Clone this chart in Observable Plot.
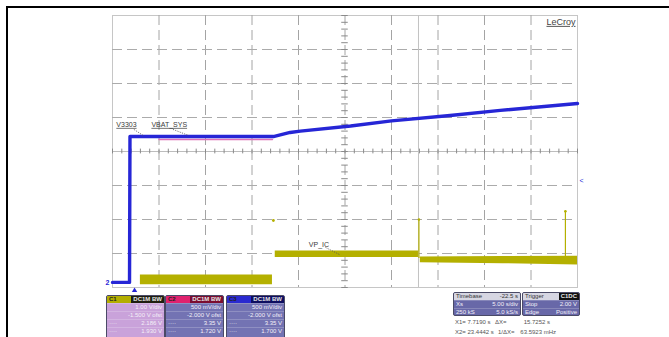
<!DOCTYPE html>
<html><head><meta charset="utf-8">
<script src="https://cdn.jsdelivr.net/npm/d3@7"></script>
<script src="https://cdn.jsdelivr.net/npm/@observablehq/plot@0.6"></script>
<style>
body{margin:0;background:#fff;font-family:"Liberation Sans",Arial,sans-serif;}
#wrap{position:relative;width:669px;height:337px;overflow:hidden;}
#border{position:absolute;left:6px;top:6px;width:700px;height:400px;border-left:2px solid #000;border-top:2px solid #000;}
#chart{position:absolute;left:0;top:0;}
.box{position:absolute;border:1px solid #4a4a66;border-radius:2px;overflow:hidden;font-size:6px;line-height:7px;color:#f4f0f8;}
.hdr{height:7px;display:flex;justify-content:space-between;align-items:center;padding:0 0 0 2px;font-weight:bold;}
.badge{padding:0 2px;height:7px;line-height:7px;color:#e8e8e8;}
.row{height:7px;display:flex;justify-content:space-between;padding:0 2px;border-top:1px solid rgba(255,255,255,0.2);}
.cur{position:absolute;font-size:6px;color:#555;white-space:pre;}
</style></head>
<body>
<div id="wrap"><div id="border"></div><div id="chart"></div><div id="panels"></div></div>
<script>
// ---- traces (time in s, 5 s/div; level in screen divisions) ----
const blueT = [0, 1.83, 1.88, 17.3, 19.1, 20.2, 25.6, 30.0, 36.3, 41.7, 50];
const blueV = [-3.85, -3.85, 0.44, 0.44, 0.56, 0.60, 0.75, 0.90, 1.06, 1.21, 1.41];
const pinkT = [5.0, 17.2];
const pinkV = [0.35, 0.35];
const yBandSeg = [1, 1, 2, 2, 3, 3, 3];
const yBandT  = [3.0, 17.2, 17.5, 32.9, 33.1, 42, 50];
const yBandLo = [-3.92, -3.92, -3.12, -3.12, -3.27, -3.30, -3.34];
const yBandHi = [-3.63, -3.63, -2.93, -2.93, -3.10, -3.09, -3.08];
const spikeT = [32.95, 48.7];
const spikeTop = [-2.0, -1.76];
const spikeBot = [-3.15, -3.15];
const dotT = [17.3];
const dotV = [-2.03];
const cursorT = [32.9];
const annoText = ["V3303", "VBAT_SYS", "VP_IC"];
const annoT = [1.5, 6.1, 22.2];
const annoV = [0.79, 0.79, -2.74];
const leadT1 = [2.3, 6.5, 22.9];
const leadV1 = [0.65, 0.65, -2.82];
const leadT2 = [3.3, 8.2, 24.4];
const leadV2 = [0.47, 0.47, -3.03];
const gridT = [5, 10, 15, 20, 25, 30, 35, 40, 45];
const gridV = [-3, -2, -1, 1, 2, 3];

// ---- info panels ----
const chanNames = ["C1", "C2", "C3"];
const chanBadge = ["DC1M  BW", "DC1M  BW", "DC1M  BW"];
const chanScale = ["1.00 V/div", "500 mV/div", "500 mV/div"];
const chanOffset = ["-1.500 V ofst", "-2.000 V ofst", "-2.000 V ofst"];
const chanCur1 = ["2.186 V", "3.35 V", "3.35 V"];
const chanCur2 = ["1.930 V", "1.720 V", "1.700 V"];
const tbHead = ["Timebase", "-22.5 s"];
const tbRow1 = ["Xs", "5.00 s/div"];
const tbRow2 = ["250 kS", "5.0 kS/s"];
const trHead = ["Trigger", "C1DC"];
const trRow1 = ["Stop", "2.00 V"];
const trRow2 = ["Edge", "Positive"];
const curLine1 = ["X1= 7.7190 s", "\u0394X=", "15.7252 s"];
const curLine2 = ["X2= 23.4442 s", "1/\u0394X=", "63.5923 mHz"];

const traceBlue = "#2626d6", traceYellow = "#b4b000";
const ink = "#3a3a3a";

const yBand = yBandT.map((t, i) => ({t, lo: yBandLo[i], hi: yBandHi[i], s: yBandSeg[i]}));
const blue = blueT.map((t, i) => ({t, v: blueV[i]}));
const pink = pinkT.map((t, i) => ({t, v: pinkV[i]}));
const spikes = spikeT.map((t, i) => ({t, a: spikeTop[i], b: spikeBot[i]}));
const annos = annoText.map((s, i) => ({s, t: annoT[i], v: annoV[i], t1: leadT1[i], v1: leadV1[i], t2: leadT2[i], v2: leadV2[i]}));

const chart = Plot.plot({
  width: 669, height: 337,
  marginLeft: 112, marginRight: 92, marginTop: 15, marginBottom: 50,
  x: {domain: [0, 50], axis: null},
  y: {domain: [-4, 4], axis: null},
  style: {background: "transparent", fontFamily: "Liberation Sans, Arial, sans-serif"},
  marks: [
    Plot.frame({stroke: "#c6c6c6"}),
    Plot.ruleX(gridT, {stroke: "#a4a4a4", strokeDasharray: "10,5"}),
    Plot.ruleY(gridV, {stroke: "#ababab", strokeDasharray: "10,5"}),
    Plot.ruleY([0], {stroke: "#bdbdbd"}),
    Plot.ruleX(d3.range(0, 50.01, 1), {x: d => d, y1: -0.07, y2: 0.07, stroke: "#8a8a8a"}),
    Plot.ruleY(d3.range(-4, 4.01, 0.2), {y: d => d, x1: 24.65, x2: 25.35, stroke: "#8a8a8a"}),
    Plot.ruleX(cursorT, {stroke: "#c2c2c2"}),
    Plot.areaY(yBand, {x: "t", y1: "lo", y2: "hi", z: "s", fill: traceYellow}),
    Plot.ruleX(spikes, {x: "t", y1: "a", y2: "b", stroke: traceYellow, strokeWidth: 1.2}),
    Plot.dot(spikeT.map((t, i) => ({t, v: spikeTop[i]})), {x: "t", y: "v", r: 1.3, fill: traceYellow}),
    Plot.dot(dotT.map((t, i) => ({t, v: dotV[i]})), {x: "t", y: "v", r: 1.4, fill: traceYellow}),
    Plot.line(pink, {x: "t", y: "v", stroke: "#e070b8", strokeWidth: 1.5}),
    Plot.line(blue, {x: "t", y: "v", stroke: traceBlue, strokeWidth: 3.4}),
    Plot.link(annos, {x1: "t1", y1: "v1", x2: "t2", y2: "v2", stroke: "#555", strokeWidth: 0.8, strokeDasharray: "1.2,1.2"}),
    Plot.text(annos, {x: "t", y: "v", text: "s", fontSize: 7, fill: ink}),
    Plot.text(["LeCroy"], {frameAnchor: "top-right", dx: -2, dy: 3, fontSize: 9, fill: "#444", lineAnchor: "top"}),
    Plot.text(["2"], {x: 0, y: -3.85, dx: -5, fontSize: 7, fill: traceBlue, fontWeight: "bold"}),
    Plot.text(["<"], {x: 50, y: -0.85, dx: 4, fontSize: 7, fill: traceBlue}),
    Plot.dot([2.37], {x: d => d, y: -4, dy: 3, symbol: "triangle", r: 2, fill: traceBlue})
  ]
});
chart.querySelectorAll("text").forEach(t => {
  if (["V3303", "VBAT_SYS", "LeCroy"].includes(t.textContent)) t.setAttribute("text-decoration", "underline");
});
document.getElementById("chart").appendChild(chart);

// ---- panels ----
const panels = document.getElementById("panels");
const hdrCol = ["#b3ae00", "#e0226e", "#2a2ad0"];
const badgeCol = ["#1e1e10", "#7a0d30", "#0e0e60"];
const bodyCol = ["#c9a2da", "#7373b3", "#7373b3"];
const boxLeft = [106, 165, 226];
function row(a, b) { return `<div class="row"><span>${a}</span><span>${b}</span></div>`; }
chanNames.forEach((n, i) => {
  const d = document.createElement("div");
  d.className = "box";
  Object.assign(d.style, {left: boxLeft[i] + "px", top: "295px", width: "57px", height: "46px", background: bodyCol[i]});
  d.innerHTML = `<div class="hdr" style="background:${hdrCol[i]};color:#222"><span>${n}</span><span class="badge" style="background:${badgeCol[i]}">${chanBadge[i]}</span></div>`
    + row("", chanScale[i]) + row("", chanOffset[i]) + row("\u00b7\u00b7\u00b7\u00b7", chanCur1[i]) + row("\u00b7\u00b7\u00b7\u00b7", chanCur2[i]);
  panels.appendChild(d);
});
[[tbHead, tbRow1, tbRow2, 453, 66], [trHead, trRow1, trRow2, 522, 56]].forEach(([h, r1, r2, left, w], k) => {
  const d = document.createElement("div");
  d.className = "box";
  Object.assign(d.style, {left: left + "px", top: "292px", width: w + "px", height: "22px", background: "#6868a8"});
  const badge = k === 1 ? `<span class="badge" style="background:#111;font-weight:bold">${h[1]}</span>` : `<span style="padding-right:2px;font-weight:normal">${h[1]}</span>`;
  d.innerHTML = `<div class="hdr" style="background:#d6d6e2;color:#333;font-weight:normal"><span>${h[0]}</span>${badge}</div>` + row(r1[0], r1[1]) + row(r2[0], r2[1]);
  panels.appendChild(d);
});
[[curLine1, 319, 495, 550], [curLine2, 329, 498, 556]].forEach(([ln, top, labX, valR]) => {
  const mk = (txt, css) => { const e = document.createElement("div"); e.className = "cur"; e.textContent = txt; Object.assign(e.style, css, {top: top + "px"}); panels.appendChild(e); };
  mk(ln[0], {left: "455px"});
  mk(ln[1], {left: labX + "px"});
  mk(ln[2], {right: (669 - valR) + "px"});
});
</script>
</body></html>
